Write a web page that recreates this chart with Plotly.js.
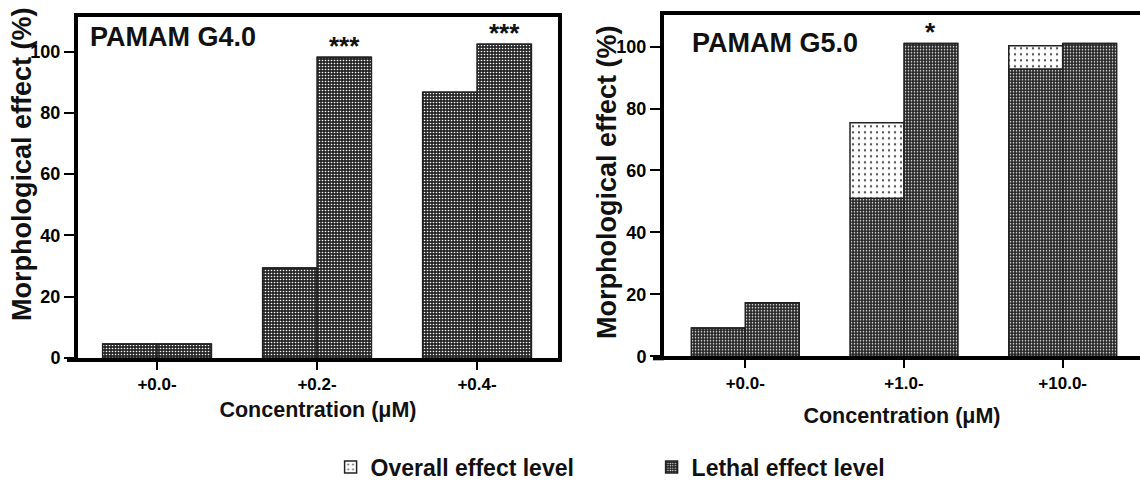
<!DOCTYPE html>
<html><head><meta charset="utf-8">
<script src="https://cdn.plot.ly/plotly-3.0.1.min.js"></script>
<style>html,body{margin:0;padding:0;background:#fff}#chart{width:1140px;height:482px}</style>
</head><body><div id="chart"></div>
<script>
const concG4 = ['+0.0-', '+0.2-', '+0.4-'];
const concG5 = ['+0.0-', '+1.0-', '+10.0-'];
// first (left) bar of each pair: lethal part and overall level
const g4LethalA = [4.6, 29.4, 86.7];
const g4OverallA = [4.6, 29.4, 86.7];
// second (right) bar of each pair
const g4LethalB = [4.6, 98.2, 102.4];
const g4OverallB = [4.6, 98.2, 102.4];
const g5LethalA = [9.1, 51.0, 92.8];
const g5OverallA = [9.1, 75.4, 100.3];
const g5LethalB = [17.3, 101.0, 101.0];
const g5OverallB = [17.3, 101.0, 101.0];
const g4Sig = ['', '***', '***'];
const g5Sig = ['', '*', ''];
const panelTitles = ['PAMAM G4.0', 'PAMAM G5.0'];
const yTitle = 'Morphological effect (%)';
const xTitle = 'Concentration (μM)';
const legendNames = ['Overall effect level', 'Lethal effect level'];

const FONT = 'Liberation Sans, Arial, Helvetica, sans-serif';
const lethalMarker = {
  color: '#2a2a2a',
  pattern: {shape: '.', fgcolor: '#ffffff', bgcolor: '#262626', size: 3, solidity: 0.24, fillmode: 'replace'},
  line: {color: '#222', width: 1.5}
};
const overallMarker = {
  color: '#ffffff',
  pattern: {shape: '.', fgcolor: '#555555', bgcolor: '#ffffff', size: 6, solidity: 0.12, fillmode: 'replace'},
  line: {color: '#222', width: 1.5}
};

function diff(o, l) { return o.map((v, i) => Math.max(0, v - l[i])); }

function pairTraces(cats, lethA, overA, lethB, overB, xa, ya, showLeg) {
  const common = {type: 'bar', x: cats, xaxis: xa, yaxis: ya, hoverinfo: 'skip'};
  return [
    Object.assign({}, common, {y: lethA, offsetgroup: 'A', marker: lethalMarker, name: legendNames[1], legendgroup: 'leth', legendrank: 2, showlegend: showLeg}),
    Object.assign({}, common, {y: diff(overA, lethA), base: lethA, offsetgroup: 'A', marker: overallMarker, name: legendNames[0], legendgroup: 'over', legendrank: 1, showlegend: showLeg}),
    Object.assign({}, common, {y: lethB, offsetgroup: 'B', marker: lethalMarker, name: legendNames[1], legendgroup: 'leth', showlegend: false}),
    Object.assign({}, common, {y: diff(overB, lethB), base: lethB, offsetgroup: 'B', marker: overallMarker, name: legendNames[0], legendgroup: 'over', showlegend: false})
  ];
}

const data = [].concat(
  pairTraces(concG4, g4LethalA, g4OverallA, g4LethalB, g4OverallB, 'x', 'y', true),
  pairTraces(concG5, g5LethalA, g5OverallA, g5LethalB, g5OverallB, 'x2', 'y2', false)
);

function sigAnnots(cats, tops, sig, xa, ya) {
  const out = [];
  sig.forEach((s, i) => {
    if (!s) return;
    out.push({xref: xa, yref: ya, x: cats[i], y: tops[i], text: s, showarrow: false,
      xshift: 27, yanchor: 'bottom', yshift: -6,
      font: {family: FONT, size: 26, color: '#111', weight: 'bold'}});
  });
  return out;
}

const W = 1140, H = 482;
const L1 = 78, R1 = 558, T1 = 17, B1 = 358;
const L2 = 664, R2 = 1140, T2 = 15.3, B2 = 356.3;

const tickFont = {family: FONT, size: 18, color: '#000', weight: 'bold'};
const xTickFont = {family: FONT, size: 17, color: '#000', weight: 'bold'};
const xTitleFont = {family: FONT, size: 21.5, color: '#111', weight: 'bold'};
const yTitleFont = {family: FONT, size: 27, color: '#111', weight: 'bold'};

function xAxis(dom, range, anchor, standoff) {
  return {domain: dom, anchor: anchor, type: 'category', range: range,
    showline: true, linewidth: 4, linecolor: '#000', mirror: true,
    ticks: 'outside', ticklen: 8, tickwidth: 2, tickcolor: '#000',
    showgrid: false, zeroline: false, tickfont: xTickFont,
    title: {text: xTitle, font: xTitleFont, standoff: standoff}, fixedrange: true};
}
function yAxis(dom, range, anchor, mirror) {
  return {domain: dom, anchor: anchor, range: range,
    showline: true, linewidth: 4, linecolor: '#000', mirror: mirror,
    ticks: 'outside', ticklen: 10, tickwidth: 2, tickcolor: '#000',
    tickvals: [0, 20, 40, 60, 80, 100],
    showgrid: false, zeroline: false, tickfont: tickFont, fixedrange: true};
}

const layout = {
  width: W, height: H,
  margin: {l: 0, r: 0, t: 0, b: 0, autoexpand: false},
  paper_bgcolor: '#fff', plot_bgcolor: '#fff',
  font: {family: FONT, color: '#111'},
  barmode: 'group', bargap: 0.32, bargroupgap: 0,
  xaxis: xAxis([L1 / W, R1 / W], [-0.494, 2.506], 'y', 10),
  yaxis: yAxis([(H - B1) / H, (H - T1) / H], [0, 111.3], 'x', true),
  xaxis2: xAxis([L2 / W, R2 / W], [-0.512, 2.487], 'y2', 17),
  yaxis2: yAxis([(H - B2) / H, (H - T2) / H], [0, 110.1], 'x2', false),
  showlegend: true,
  legend: {orientation: 'h', x: 0.29, xanchor: 'left', y: (H - 467) / H, yanchor: 'middle',
    font: {family: FONT, size: 23, color: '#111', weight: 'bold'},
    entrywidth: 276, entrywidthmode: 'pixels', traceorder: 'normal',
    bgcolor: 'rgba(0,0,0,0)', borderwidth: 0},
  annotations: [].concat(
    sigAnnots(concG4, g4OverallB, g4Sig, 'x', 'y'),
    sigAnnots(concG5, g5OverallB, g5Sig, 'x2', 'y2'),
    [
      {xref: 'x domain', yref: 'y domain', x: (88 - L1) / (R1 - L1), y: (B1 - 37) / (B1 - T1), xanchor: 'left', yanchor: 'middle',
        text: panelTitles[0], showarrow: false, font: {family: FONT, size: 27, color: '#111', weight: 'bold'}},
      {xref: 'x2 domain', yref: 'y2 domain', x: (690 - L2) / (R2 - L2), y: (B2 - 43) / (B2 - T2), xanchor: 'left', yanchor: 'middle',
        text: panelTitles[1], showarrow: false, font: {family: FONT, size: 27, color: '#111', weight: 'bold'}},
      {xref: 'paper', yref: 'paper', x: 22 / W, y: (H - 164) / H, xanchor: 'center', yanchor: 'middle', textangle: -90,
        text: yTitle, showarrow: false, font: yTitleFont},
      {xref: 'paper', yref: 'paper', x: 607 / W, y: (H - 182) / H, xanchor: 'center', yanchor: 'middle', textangle: -90,
        text: yTitle, showarrow: false, font: yTitleFont}
    ]
  ),
  shapes: [
    {type: 'line', xref: 'x domain', yref: 'y domain', x0: -11 / (R1 - L1), x1: 0, y0: -2 / (B1 - T1), y1: -2 / (B1 - T1), line: {color: '#000', width: 4}},
    {type: 'line', xref: 'x2 domain', yref: 'y2 domain', x0: -11 / (R2 - L2), x1: 0, y0: -2 / (B2 - T2), y1: -2 / (B2 - T2), line: {color: '#000', width: 4}}
  ]
};

Plotly.newPlot('chart', data, layout, {displayModeBar: false, staticPlot: true});
</script>
</body></html>
